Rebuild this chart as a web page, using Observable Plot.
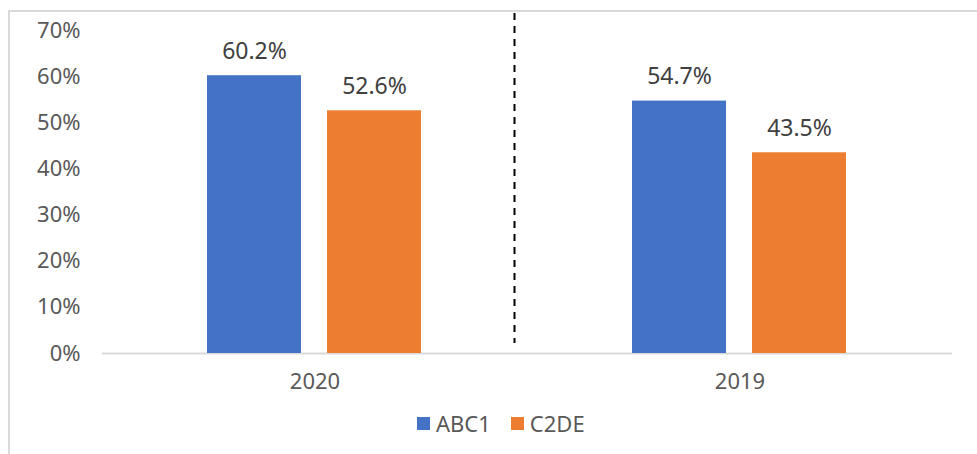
<!DOCTYPE html>
<html>
<head>
<meta charset="utf-8">
<script src="https://cdn.jsdelivr.net/npm/d3@7"></script>
<script src="https://cdn.jsdelivr.net/npm/@observablehq/plot@0.6"></script>
<style>
  html, body { margin: 0; padding: 0; background: #fff; overflow: hidden; width: 977px; height: 454px; }
  body { position: relative; font-family: "Noto Sans", sans-serif; }
  #frame { position: absolute; left: 8px; top: 10px; width: 1000px; height: 500px; border: 2px solid #d9d9d9; box-sizing: border-box; }
  #chart { position: absolute; left: 0; top: 0; }
  #legend { position: absolute; left: 417px; top: 408px; display: flex; align-items: center; font-size: 22px; color: #595959; }
  .sw { width: 13px; height: 13px; display: inline-block; margin-right: 6px; }
  .item { display: flex; align-items: center; margin-right: 20px; }
</style>
</head>
<body>
<div id="frame"></div>
<div id="chart"></div>
<div id="legend"></div>
<script>
const years = ["2020", "2019"];
const seriesNames = ["ABC1", "C2DE"];
const abc1 = [0.602, 0.547];
const c2de = [0.526, 0.435];
const colors = ["#4472C4", "#ED7D31"];
const yTicks = [0, 0.1, 0.2, 0.3, 0.4, 0.5, 0.6, 0.7];
const divider = [{year: "2020", series: "C2DE"}];

const data = [];
years.forEach((yr, i) => {
  data.push({year: yr, series: "ABC1", value: abc1[i]});
  data.push({year: yr, series: "C2DE", value: c2de[i]});
});

const chart = Plot.plot({
  width: 977,
  height: 400,
  marginLeft: 102,
  marginRight: 25,
  marginTop: 30,
  marginBottom: 47,
  style: {fontFamily: "Noto Sans, sans-serif", fontSize: "22px", color: "#595959", background: "transparent", overflow: "visible"},
  fx: {domain: years, padding: 0, label: null, axis: "bottom", tickSize: 0, tickPadding: 20},
  x: {domain: seriesNames, paddingInner: 0.215, paddingOuter: 0.864, axis: null},
  y: {domain: [0, 0.7], ticks: yTicks, tickFormat: d3.format(".0%"), label: null, tickSize: 0, tickPadding: 22},
  color: {domain: seriesNames, range: colors},
  marks: [
    Plot.ruleY([0], {stroke: "#d9d9d9", strokeWidth: 2}),
    Plot.barY(data, {fx: "year", x: "series", y: "value", fill: "series"}),
    Plot.text(data, {fx: "year", x: "series", y: "value", text: d => (d.value * 100).toFixed(1) + "%", dy: -24, fill: "#404040", fontSize: 23}),
    Plot.ruleX(divider, {fx: "year", x: "series", dx: 140, insetTop: -17, insetBottom: 10, stroke: "#000", strokeWidth: 2, strokeDasharray: "7,6"})
  ]
});
document.getElementById("chart").appendChild(chart);

const legend = document.getElementById("legend");
seriesNames.forEach((s, i) => {
  const item = document.createElement("div");
  item.className = "item";
  const sw = document.createElement("span");
  sw.className = "sw";
  sw.style.background = colors[i];
  const t = document.createElement("span");
  t.textContent = s;
  item.appendChild(sw);
  item.appendChild(t);
  legend.appendChild(item);
});
</script>
</body>
</html>
